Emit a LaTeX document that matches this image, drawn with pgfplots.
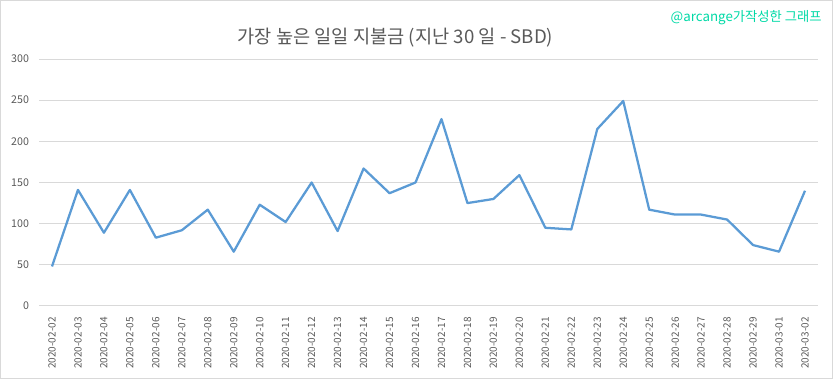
\documentclass[border=0pt]{standalone}
\usepackage{pgfplots}
\pgfplotsset{compat=1.18}
\usepackage{fontspec}
\setmainfont{Noto Sans CJK KR}
\definecolor{linec}{HTML}{5B9BD5}
\definecolor{gridc}{HTML}{D9D9D9}
\definecolor{txtc}{HTML}{595959}
\definecolor{wmc}{HTML}{00D9A6}
\begin{document}
\begin{tikzpicture}
\useasboundingbox (0,0) rectangle (624.75pt,284.25pt);
\draw[gridc, line width=0.75pt] (0.375pt,0.375pt) rectangle (624.375pt,283.875pt);
\begin{axis}[
  at={(29.25pt,54.75pt)}, anchor=south west,
  scale only axis, width=584.25pt, height=185.25pt,
  xmin=-0.5, xmax=29.5, ymin=0, ymax=300,
  ytick={0,50,...,300},
  xtick={0,...,29},
  xticklabels={2020-02-02,2020-02-03,2020-02-04,2020-02-05,2020-02-06,2020-02-07,2020-02-08,2020-02-09,2020-02-10,2020-02-11,2020-02-12,2020-02-13,2020-02-14,2020-02-15,2020-02-16,2020-02-17,2020-02-18,2020-02-19,2020-02-20,2020-02-21,2020-02-22,2020-02-23,2020-02-24,2020-02-25,2020-02-26,2020-02-27,2020-02-28,2020-02-29,2020-03-01,2020-03-02},
  x tick label style={rotate=90, anchor=east, font=\fontsize{7.5}{9}\selectfont, text=txtc},
  y tick label style={font=\fontsize{8}{10}\selectfont, text=txtc},
  /pgf/number format/assume math mode=true,
  ymajorgrids, grid style={gridc, line width=0.75pt},
  axis line style={draw=none},
  major tick length=0pt,
  xticklabel shift=5pt, yticklabel shift=4pt,
  clip=false,
]
\draw[gridc, line width=0.75pt] (axis cs:-0.5,0) -- (axis cs:29.5,0);
\addplot[linec, line width=1.7pt, line join=round, mark=none] coordinates {
(0,48) (1,141) (2,89) (3,141) (4,83) (5,92) (6,117) (7,66) (8,123) (9,102)
(10,150) (11,91) (12,167) (13,137) (14,150) (15,227) (16,125) (17,130) (18,159) (19,95)
(20,93) (21,215) (22,249) (23,117) (24,111) (25,111) (26,105) (27,74) (28,66) (29,140)
};
\end{axis}
\node[text=txtc, font=\fontsize{14}{16}\selectfont] at (296.6pt,255.75pt) {가장 높은 일일 지불금 (지난 30 일 - SBD)};
\node[text=wmc, font=\fontsize{10}{12}\selectfont, anchor=east, inner sep=0pt] at (616.5pt,270.75pt) {@arcange가작성한 그래프};
\end{tikzpicture}
\end{document}
